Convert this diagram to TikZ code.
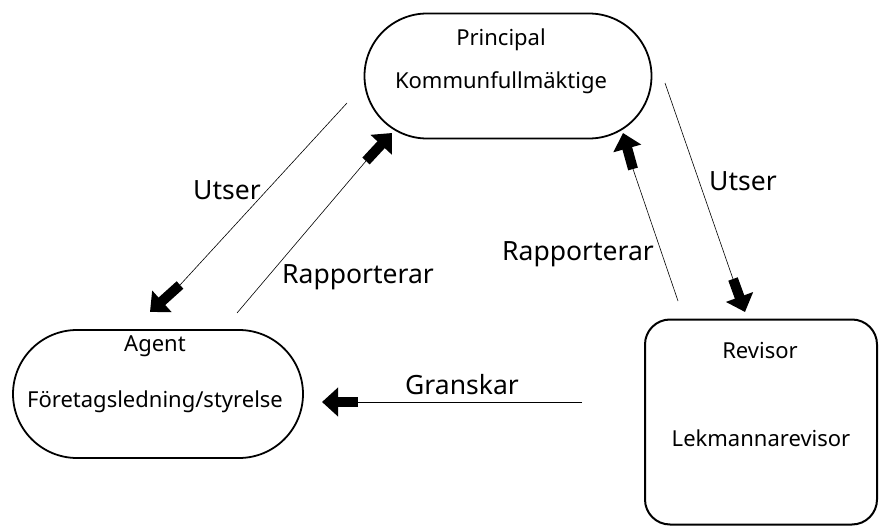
\documentclass[tikz,border=0pt]{standalone}
\usepackage{fontspec}
\setmainfont{Noto Sans}
\usetikzlibrary{shapes.misc, positioning, arrows.meta}

\tikzset{
    stadium/.style={draw, line width=1.8pt, rounded rectangle, minimum width=#1, minimum height=125pt, inner sep=0pt},
    boxtxt/.style={font=\fontsize{22}{26}\selectfont, inner sep=0pt},
    lbl/.style={font=\fontsize{26.5}{30}\selectfont, inner sep=0pt},
    thinline/.style={line width=0.6pt},
    blockhead/.style={line width=10pt, -{Triangle[length=16pt, width=28pt]}}
}

\begin{document}
\begin{tikzpicture}[x=1pt, y=-1pt]
    \useasboundingbox (0,0) rectangle (879,527);

    % Boxes
    \node[stadium=287pt] (principal) at (508,76) {};
    \node[stadium=290pt, minimum height=128pt] (agent) at (158,394) {};
    \node[draw, line width=2pt, rounded corners=25pt, minimum width=232pt, minimum height=205pt] (revisor) at (761,422) {};

    % Texts inside the boxes
    \node[boxtxt] (principalT) at (501,40) {Principal};
    \node[boxtxt] (principalS) at (501,83) {Kommunfullmäktige};
    \node[boxtxt] (agentT) at (155,346) {Agent};
    \node[boxtxt] (agentS) at (155,402) {Företagsledning/styrelse};
    \node[boxtxt] (revisorT) at (760,351) {Revisor};
    \node[boxtxt] (revisorS) at (761,438) {Lekmannarevisor};

    % End points of the connectors
    \coordinate (utserA1) at (347,103);
    \coordinate (utserA2) at (180,285);
    \coordinate (utserA3) at (150,312);
    \coordinate (rappA1) at (237,313);
    \coordinate (rappA2) at (366,161);
    \coordinate (rappA3) at (392,133);
    \coordinate (rappB1) at (678,301);
    \coordinate (rappB2) at (633,169);
    \coordinate (rappB3) at (623,133);
    \coordinate (utserB1) at (665,83);
    \coordinate (utserB2) at (733,279);
    \coordinate (utserB3) at (745,312);
    \coordinate (gransk1) at (582,402);
    \coordinate (gransk2) at (358,402);
    \coordinate (gransk3) at (322,402);

    % Connectors
    \draw[thinline] (utserA1) -- (utserA2);
    \draw[blockhead] (utserA2) -- (utserA3);
    \draw[thinline] (rappA1) -- (rappA2);
    \draw[blockhead] (rappA2) -- (rappA3);
    \draw[thinline] (rappB1) -- (rappB2);
    \draw[blockhead] (rappB2) -- (rappB3);
    \draw[thinline] (utserB1) -- (utserB2);
    \draw[blockhead] (utserB2) -- (utserB3);
    \draw[thinline] (gransk1) -- (gransk2);
    \draw[blockhead] (gransk2) -- (gransk3);

    % Labels
    \node[lbl] (utserL) at (227,190) {Utser};
    \node[lbl] (rappL) at (358,277) {Rapporterar};
    \node[lbl] (rappR) at (578,254) {Rapporterar};
    \node[lbl] (utserR) at (743,181) {Utser};
    \node[lbl] (granskL) at (462,385) {Granskar};
\end{tikzpicture}
\end{document}
